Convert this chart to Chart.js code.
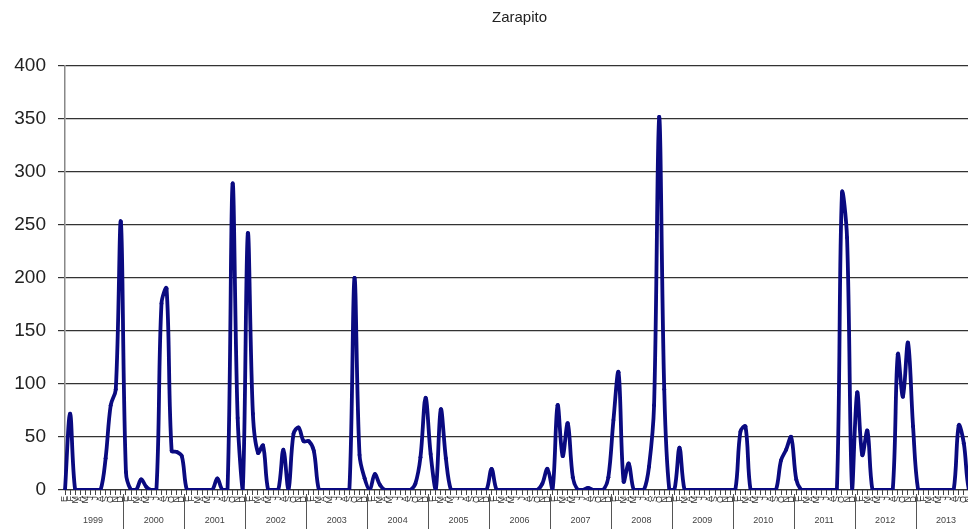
<!DOCTYPE html>
<html>
<head>
<meta charset="utf-8">
<title>Zarapito</title>
<script src="https://cdn.jsdelivr.net/npm/chart.js@4"></script>
<style>
  html, body { margin: 0; padding: 0; background: #fff; overflow: hidden; }
  #wrap { width: 990px; height: 529px; position: relative; }
</style>
</head>
<body>
<div id="wrap"><canvas id="chart"></canvas></div>
<script>
const chartTitle = 'Zarapito';
const months = ['E', 'F', 'M', 'A', 'M', 'J', 'J', 'A', 'S', 'O', 'N', 'D'];
const years = ['1999', '2000', '2001', '2002', '2003', '2004', '2005', '2006',
               '2007', '2008', '2009', '2010', '2011', '2012', '2013'];
const yTicks = [0, 50, 100, 150, 200, 250, 300, 350, 400];

// monthly counts, one array per year (Jan..Dec)
const v1999 = [0, 72, 0, 0, 0, 0, 0, 0, 30, 80, 95, 253];
const v2000 = [17, 0, 0, 10, 3, 0, 0, 176, 190, 37, 36, 32];
const v2001 = [0, 0, 0, 0, 0, 0, 11, 0, 0, 289, 68, 0];
const v2002 = [242, 72, 35, 42, 0, 0, 0, 38, 0, 53, 59, 46];
const v2003 = [46, 37, 0, 0, 0, 0, 0, 0, 0, 200, 33, 11];
const v2004 = [0, 15, 5, 0, 0, 0, 0, 0, 0, 6, 31, 87];
const v2005 = [34, 0, 76, 30, 0, 0, 0, 0, 0, 0, 0, 0];
const v2006 = [20, 0, 0, 0, 0, 0, 0, 0, 0, 0, 6, 20];
const v2007 = [0, 80, 32, 63, 12, 0, 0, 2, 0, 0, 0, 12];
const v2008 = [66, 111, 8, 25, 0, 0, 0, 22, 80, 352, 95, 0];
const v2009 = [0, 40, 0, 0, 0, 0, 0, 0, 0, 0, 0, 0];
const v2010 = [0, 55, 60, 0, 0, 0, 0, 0, 0, 28, 38, 50];
const v2011 = [10, 0, 0, 0, 0, 0, 0, 0, 0, 280, 238, 0];
const v2012 = [92, 33, 56, 0, 0, 0, 0, 0, 128, 88, 139, 60];
const v2013 = [0, 0, 0, 0, 0, 0, 0, 0, 61, 44, 0, 0];

const yearValues = [v1999, v2000, v2001, v2002, v2003, v2004, v2005, v2006,
                    v2007, v2008, v2009, v2010, v2011, v2012, v2013];
const labels = years.flatMap(() => months);
const values = yearValues.flat();

const FONT = "'Liberation Sans', Arial, sans-serif";

// title + second row of the category axis (years)
const extras = {
  id: 'extras',
  afterDraw(chart) {
    const { ctx, chartArea, scales: { x } } = chart;
    const step = x.getPixelForValue(1) - x.getPixelForValue(0);
    const h = chart.height;
    ctx.save();
    ctx.fillStyle = '#222';
    ctx.font = '15px ' + FONT;
    ctx.textAlign = 'center';
    ctx.textBaseline = 'middle';
    ctx.fillText(chartTitle, (chartArea.left + chartArea.right) / 2, 18);

    ctx.strokeStyle = '#555';
    ctx.lineWidth = 1;
    ctx.font = '9px ' + FONT;
    ctx.fillStyle = '#444';
    years.forEach((yr, k) => {
      const x0 = x.getPixelForValue(k * 12) - step / 2;
      const x1 = x.getPixelForValue(k * 12 + 11) + step / 2;
      if (k > 0) {
        ctx.beginPath();
        ctx.moveTo(Math.round(x0) + 0.5, chartArea.bottom + 4);
        ctx.lineTo(Math.round(x0) + 0.5, h);
        ctx.stroke();
      }
      ctx.fillText(yr, (x0 + x1) / 2, 521);
    });
    ctx.restore();
  }
};

new Chart(document.getElementById('chart'), {
  type: 'line',
  data: {
    labels: labels,
    datasets: [{
      data: values,
      borderColor: '#0a0a80',
      backgroundColor: '#0a0a80',
      borderWidth: 3.8,
      pointRadius: 1.9,
      pointBorderWidth: 0,
      tension: 0.35,
      fill: false
    }]
  },
  options: {
    responsive: true,
    maintainAspectRatio: false,
    animation: false,
    layout: { padding: { top: 66, right: 16, left: 0, bottom: 0 } },
    plugins: {
      legend: { display: false },
      title: { display: false },
      tooltip: { enabled: false }
    },
    scales: {
      x: {
        offset: false,
        border: { color: '#333', width: 1.2 },
        grid: { drawOnChartArea: false, drawTicks: true, tickLength: 5, color: '#444' },
        ticks: {
          autoSkip: false,
          minRotation: 90,
          maxRotation: 90,
          padding: 1,
          color: '#333',
          font: { family: FONT, size: 9 }
        },
        afterFit(scale) { scale.height = 39; }
      },
      y: {
        min: 0,
        max: 400,
        afterBuildTicks(scale) { scale.ticks = yTicks.map(v => ({ value: v })); },
        border: { color: '#888', width: 1.5 },
        grid: { color: '#333', lineWidth: 1.2, tickLength: 7 },
        ticks: {
          padding: 12,
          color: '#222',
          font: { family: FONT, size: 19 }
        },
        afterFit(scale) { scale.width = 65; }
      }
    }
  },
  plugins: [extras]
});
</script>
</body>
</html>
